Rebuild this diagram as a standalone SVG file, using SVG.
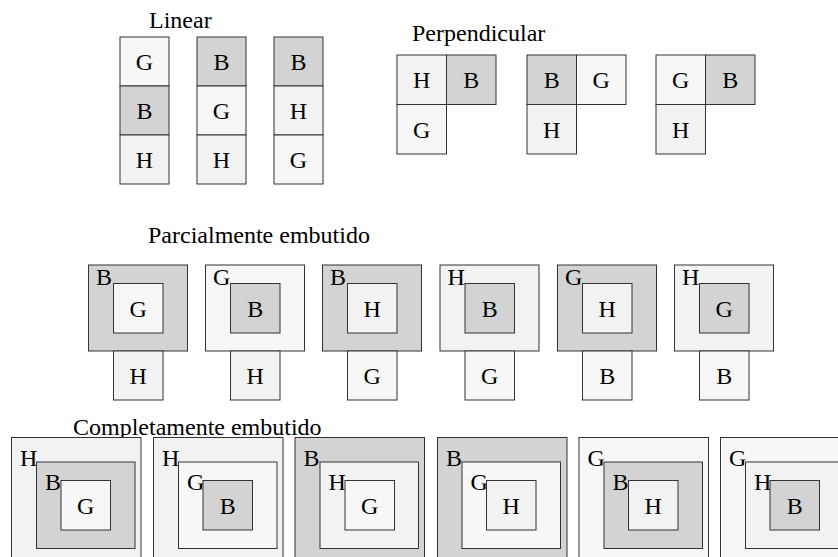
<svg xmlns="http://www.w3.org/2000/svg" width="838" height="557" viewBox="0 0 838 557">
<style>
text{font-family:"Liberation Serif","Times New Roman",serif;font-size:24px;fill:#000}
.c{text-anchor:middle}
rect{stroke:#333;stroke-width:1}
.d{fill:#d3d3d3}
.l{fill:#f7f7f7}
.m{fill:#f2f2f2}
</style>
<g id="titles">
<text x="149" y="28">Linear</text>
<text x="412" y="41">Perpendicular</text>
<text x="148" y="243">Parcialmente embutido</text>
<text x="73" y="435">Completamente embutido</text>
</g>
<g id="linear1">
<rect class="l" x="120" y="37" width="49" height="49"/><text class="c" x="144.5" y="70">G</text>
<rect class="d" x="120" y="86" width="49" height="49"/><text class="c" x="144.5" y="119">B</text>
<rect class="m" x="120" y="135" width="49" height="49"/><text class="c" x="144.5" y="168">H</text>
</g>
<g id="linear2">
<rect class="d" x="197" y="37" width="49" height="49"/><text class="c" x="221.5" y="70">B</text>
<rect class="l" x="197" y="86" width="49" height="49"/><text class="c" x="221.5" y="119">G</text>
<rect class="m" x="197" y="135" width="49" height="49"/><text class="c" x="221.5" y="168">H</text>
</g>
<g id="linear3">
<rect class="d" x="274" y="37" width="49" height="49"/><text class="c" x="298.5" y="70">B</text>
<rect class="m" x="274" y="86" width="49" height="49"/><text class="c" x="298.5" y="119">H</text>
<rect class="l" x="274" y="135" width="49" height="49"/><text class="c" x="298.5" y="168">G</text>
</g>
<g id="perp1">
<rect class="m" x="397" y="55" width="49.5" height="49.5"/><text class="c" x="421.75" y="88">H</text>
<rect class="d" x="446.5" y="55" width="49.5" height="49.5"/><text class="c" x="471.25" y="88">B</text>
<rect class="l" x="397" y="104.5" width="49.5" height="49.5"/><text class="c" x="421.75" y="137.5">G</text>
</g>
<g id="perp2">
<rect class="d" x="527" y="55" width="49.5" height="49.5"/><text class="c" x="551.75" y="88">B</text>
<rect class="l" x="576.5" y="55" width="49.5" height="49.5"/><text class="c" x="601.25" y="88">G</text>
<rect class="m" x="527" y="104.5" width="49.5" height="49.5"/><text class="c" x="551.75" y="137.5">H</text>
</g>
<g id="perp3">
<rect class="l" x="656" y="55" width="49.5" height="49.5"/><text class="c" x="680.75" y="88">G</text>
<rect class="d" x="705.5" y="55" width="49.5" height="49.5"/><text class="c" x="730.25" y="88">B</text>
<rect class="m" x="656" y="104.5" width="49.5" height="49.5"/><text class="c" x="680.75" y="137.5">H</text>
</g>
<g id="parc1">
<rect class="d" x="88.5" y="265" width="99" height="86"/><text x="96" y="285">B</text>
<rect class="l" x="113.5" y="283.5" width="49.5" height="49.5"/><text class="c" x="138.25" y="316.5">G</text>
<rect class="m" x="113.5" y="351" width="49.5" height="49"/><text class="c" x="138.25" y="384">H</text>
</g>
<g id="parc2">
<rect class="l" x="205.5" y="265" width="99" height="86"/><text x="213" y="285">G</text>
<rect class="d" x="230.5" y="283.5" width="49.5" height="49.5"/><text class="c" x="255.25" y="316.5">B</text>
<rect class="m" x="230.5" y="351" width="49.5" height="49"/><text class="c" x="255.25" y="384">H</text>
</g>
<g id="parc3">
<rect class="d" x="322.5" y="265" width="99" height="86"/><text x="330" y="285">B</text>
<rect class="m" x="347.5" y="283.5" width="49.5" height="49.5"/><text class="c" x="372.25" y="316.5">H</text>
<rect class="l" x="347.5" y="351" width="49.5" height="49"/><text class="c" x="372.25" y="384">G</text>
</g>
<g id="parc4">
<rect class="m" x="440" y="265" width="99" height="86"/><text x="447.5" y="285">H</text>
<rect class="d" x="465" y="283.5" width="49.5" height="49.5"/><text class="c" x="489.75" y="316.5">B</text>
<rect class="l" x="465" y="351" width="49.5" height="49"/><text class="c" x="489.75" y="384">G</text>
</g>
<g id="parc5">
<rect class="d" x="557.5" y="265" width="99" height="86"/><text x="565" y="285">G</text>
<rect class="m" x="582.5" y="283.5" width="49.5" height="49.5"/><text class="c" x="607.25" y="316.5">H</text>
<rect class="l" x="582.5" y="351" width="49.5" height="49"/><text class="c" x="607.25" y="384">B</text>
</g>
<g id="parc6">
<rect class="m" x="674.5" y="265" width="99" height="86"/><text x="682" y="285">H</text>
<rect class="d" x="699.5" y="283.5" width="49.5" height="49.5"/><text class="c" x="724.25" y="316.5">G</text>
<rect class="l" x="699.5" y="351" width="49.5" height="49"/><text class="c" x="724.25" y="384">B</text>
</g>
<g id="comp1">
<rect class="m" x="11.5" y="437.5" width="129.5" height="130"/><text x="20" y="466">H</text>
<rect class="d" x="36.5" y="462" width="98.5" height="86.5"/><text x="45" y="490">B</text>
<rect class="l" x="61" y="480.5" width="49.5" height="49.5"/><text class="c" x="85.75" y="514">G</text>
</g>
<g id="comp2">
<rect class="m" x="153.5" y="437.5" width="129.5" height="130"/><text x="162" y="466">H</text>
<rect class="l" x="178.5" y="462" width="98.5" height="86.5"/><text x="187" y="490">G</text>
<rect class="d" x="203" y="480.5" width="49.5" height="49.5"/><text class="c" x="227.75" y="514">B</text>
</g>
<g id="comp3">
<rect class="d" x="295" y="437.5" width="129.5" height="130"/><text x="303.5" y="466">B</text>
<rect class="m" x="320" y="462" width="98.5" height="86.5"/><text x="328.5" y="490">H</text>
<rect class="l" x="345" y="480.5" width="49.5" height="49.5"/><text class="c" x="369.75" y="514">G</text>
</g>
<g id="comp4">
<rect class="d" x="437.5" y="437.5" width="129.5" height="130"/><text x="446" y="466">B</text>
<rect class="l" x="462" y="462" width="98.5" height="86.5"/><text x="470.5" y="490">G</text>
<rect class="m" x="486.5" y="480.5" width="49.5" height="49.5"/><text class="c" x="511.25" y="514">H</text>
</g>
<g id="comp5">
<rect class="l" x="579" y="437.5" width="129.5" height="130"/><text x="587.5" y="466">G</text>
<rect class="d" x="604" y="462" width="98.5" height="86.5"/><text x="612.5" y="490">B</text>
<rect class="m" x="628.5" y="480.5" width="49.5" height="49.5"/><text class="c" x="653.25" y="514">H</text>
</g>
<g id="comp6">
<rect class="l" x="720.5" y="437.5" width="129.5" height="130"/><text x="729" y="466">G</text>
<rect class="m" x="745.5" y="462" width="98.5" height="86.5"/><text x="754" y="490">H</text>
<rect class="d" x="770" y="480.5" width="49.5" height="49.5"/><text class="c" x="794.75" y="514">B</text>
</g>
<g id="connectors"/>
</svg>
